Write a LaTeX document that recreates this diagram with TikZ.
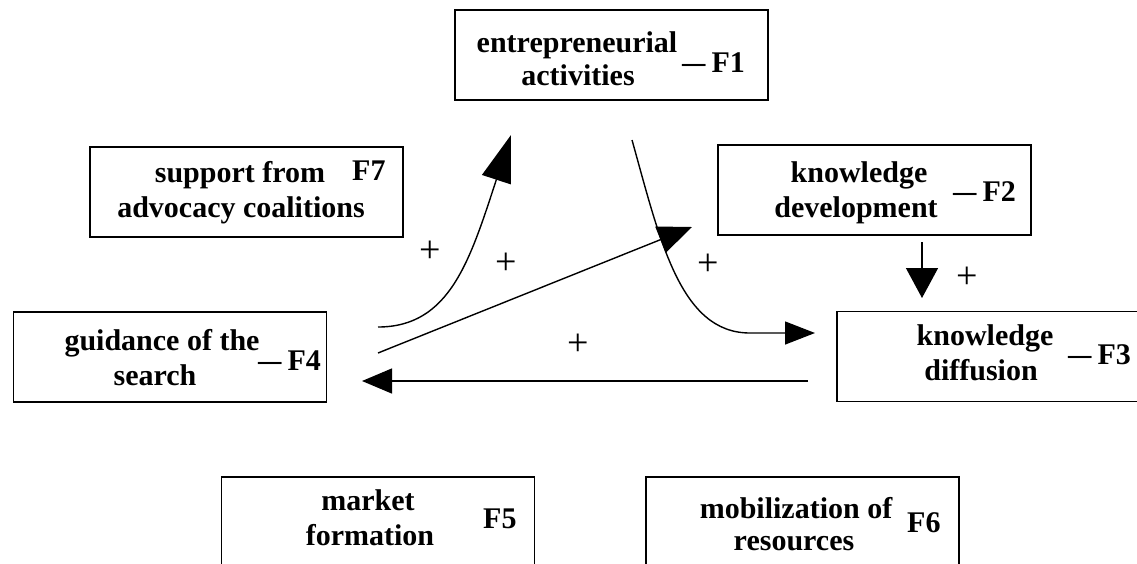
\documentclass[tikz,border=0pt]{standalone}
\usepackage{fontspec}
\setmainfont{Liberation Serif}
\usetikzlibrary{arrows.meta}
\newcommand{\fdash}{\scalebox{0.78}[1]{—}\hspace{6pt}}
\begin{document}
\begin{tikzpicture}[x=1pt,y=-1pt,
  box/.style={draw, line width=1.6pt, minimum width=313pt, minimum height=90pt, inner sep=0pt},
  lbl/.style={font=\fontsize{30}{33}\selectfont\bfseries, inner sep=0pt, anchor=base},
  fl/.style={font=\fontsize{30}{33}\selectfont\bfseries, inner sep=0pt, anchor=base west},
  plus/.style={font=\fontsize{38}{40}\selectfont, inner sep=0pt},
  conn/.style={line width=1.4pt},
]
\useasboundingbox (0,0) rectangle (1137,563);
% boxes
\node[box] (F1) at (611.5,55) {};
\node[box] (F7) at (246.5,192) {};
\node[box] (F2) at (874.5,190) {};
\node[box] (F4) at (170,357) {};
\node[box] (F3) at (993.5,356.5) {};
\node[box] (F5) at (378,522) {};
\node[box] (F6) at (802.5,522) {};
% texts
\node[lbl] (t1a) at (577,52) {entrepreneurial};
\node[lbl] (t1b) at (578,85) {activities};
\node[fl]  (l1)  at (682,72) {\fdash F1};
\node[lbl] (t7a) at (240,182) {support from};
\node[lbl] (t7b) at (241,217) {advocacy coalitions};
\node[fl]  (l7)  at (352,180) {F7};
\node[lbl] (t2a) at (859,182) {knowledge};
\node[lbl] (t2b) at (856,217) {development};
\node[fl]  (l2)  at (953,201) {\fdash F2};
\node[lbl] (t3a) at (985,345) {knowledge};
\node[lbl] (t3b) at (981,380) {diffusion};
\node[fl]  (l3)  at (1068,364) {\fdash F3};
\node[lbl] (t4a) at (162,350) {guidance of the};
\node[lbl] (t4b) at (155,385) {search};
\node[fl]  (l4)  at (258,370) {\fdash F4};
\node[lbl] (t5a) at (368,510) {market};
\node[lbl] (t5b) at (370,545) {formation};
\node[fl]  (l5)  at (483,528) {F5};
\node[lbl] (t6a) at (796,518) {mobilization of};
\node[lbl] (t6b) at (794,550) {resources};
\node[fl]  (l6)  at (907,532) {F6};
% connector end points
\coordinate (s1) at (378,327); \coordinate (e1) at (511,135);
\coordinate (s2) at (378,353); \coordinate (e2) at (692,227);
\coordinate (s3) at (632,140); \coordinate (e3) at (815,333);
\coordinate (s4) at (808,381); \coordinate (e4) at (362,381);
\coordinate (s5) at (922,242); \coordinate (e5) at (922,298);
% connectors
\draw[conn,-{Triangle[length=47pt,width=30pt]}] (s1) .. controls (450,327) and (470,260) .. (e1);
\draw[conn,-{Triangle[length=34pt,width=28pt]}] (s2) -- (e2);
\draw[conn,-{Triangle[length=30pt,width=23pt]}] (s3) .. controls (660,240) and (680,333) .. (750,333) -- (e3);
\draw[conn,-{Triangle[length=30pt,width=25pt]}] (s4) -- (e4);
\draw[conn,-{Triangle[length=30pt,width=32pt]}] (s5) -- (e5);
% plus signs
\node[plus] (p1) at (430,252) {+};
\node[plus] (p2) at (506,264) {+};
\node[plus] (p3) at (578,345) {+};
\node[plus] (p4) at (708,265) {+};
\node[plus] (p5) at (967,278) {+};
\end{tikzpicture}
\end{document}
